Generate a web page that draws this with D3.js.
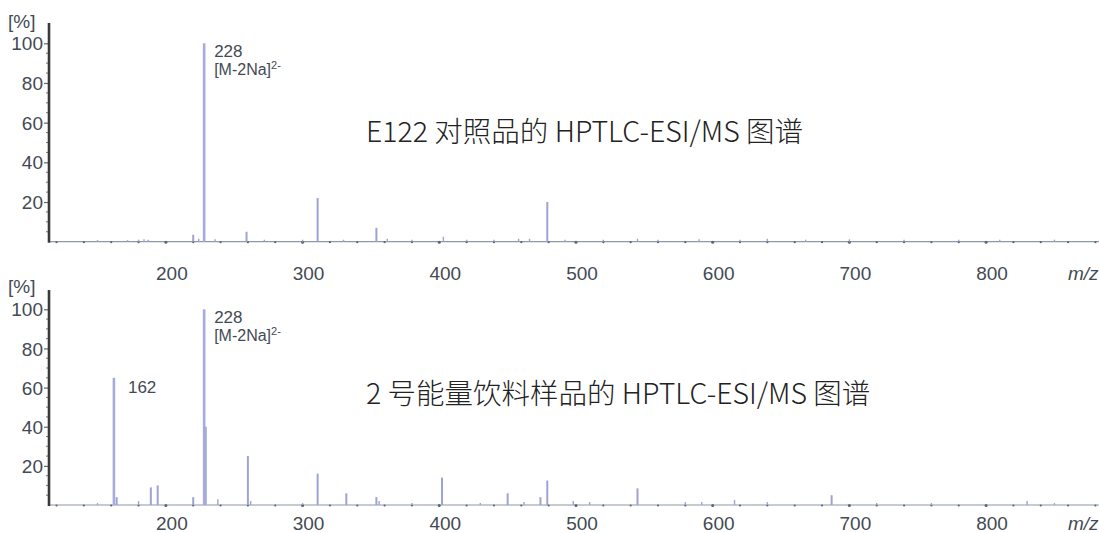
<!DOCTYPE html>
<html><head><meta charset="utf-8">
<script src="https://cdn.jsdelivr.net/npm/d3@7"></script>
<style>html,body{margin:0;padding:0;background:#fff;overflow:hidden}</style>
</head><body>
<svg id="c" width="1099" height="533"></svg>
<script>
// ---- data ----
const xTickValues = [200, 300, 400, 500, 600, 700, 800];
const yTickValues = [20, 40, 60, 80, 100];
const titles = ["E122 对照品的 HPTLC-ESI/MS 图谱", "2 号能量饮料样品的 HPTLC-ESI/MS 图谱"];
// panel 1: E122 reference substance
const refMz  = [150,172,180,184,187,220,224,228,236,259,272,300,311,330,354,362,380,403,420,440,458,466,479,492,520,545,560,590,620,640,668,700,740,780,810,850];
const refInt = [0.8,0.8,1,1.2,1,3.5,1.5,100,1.2,5,1,1,22,1,7,1.5,1,2.5,1,1,1.5,1.5,20,1,1,1.5,1,1.2,1,1.5,1,1.2,1,1,1,1];
// panel 2: energy drink sample no. 2
const smpMz  = [150,162,164,180,189,194,220,228,229,238,260,262,300,311,332,354,356,380,402,430,450,462,474,479,498,510,545,580,592,616,640,687,720,760,830,850];
const smpInt = [1,65,4,2,9,10,4,100,40,3,25,2,1,16,6,4,2,1,14,1,6,1.5,4,12.5,2,1.5,8.5,1.5,1.5,2.5,1.5,5,1,1,2,1];
const peakLabels = [
  [{mz:228, lines:["228","[M-2Na]"], sup:"2-"}],
  [{mz:228, lines:["228","[M-2Na]"], sup:"2-"}, {mz:162, lines:["162"], sup:null}]
];

const svg = d3.select("#c");
const W = 1099;
const x = d3.scaleLinear().domain([114.5, 882.6]).range([49, W]);

const panels = [
  {mz: refMz, it: refInt, top: 43.3, base: 241.7, axisTop: 23, lblBase: 280, title: titles[0], titleY: 142, pct: 28, labels: peakLabels[0]},
  {mz: smpMz, it: smpInt, top: 309.3, base: 505, axisTop: 290, lblBase: 530, title: titles[1], titleY: 404, pct: 293, labels: peakLabels[1]}
];

const txtCol = "#434a54";
const FF = "Liberation Sans, Arial, sans-serif";
panels.forEach(p => {
  const y = d3.scaleLinear().domain([0, 100]).range([p.base, p.top]);
  const g = svg.append("g");

  // baseline
  g.append("line").attr("x1", 49).attr("x2", W).attr("y1", p.base).attr("y2", p.base)
    .attr("stroke", "#8e98a8").attr("stroke-width", 1.2);
  // x minor dots
  const minor = d3.range(120, 881, 20);
  g.selectAll("circle.mn").data(minor).enter().append("circle")
    .attr("cx", d => x(d)).attr("cy", p.base + 0.5).attr("r", d => d % 100 === 0 ? 1.5 : 1.1)
    .attr("fill", "#5b6573");

  // peaks
  const data = p.mz.map((m, i) => ({m, v: p.it[i]}));
  g.selectAll("line.pk").data(data).enter().append("line")
    .attr("x1", d => x(d.m)).attr("x2", d => x(d.m))
    .attr("y1", p.base).attr("y2", d => y(d.v))
    .attr("stroke", d => d.v > 30 ? "#a6abdc" : "#9ea3d4")
    .attr("stroke-width", d => d.v > 30 ? 2.6 : (d.v > 3 ? 2 : 1.4));

  // y axis
  const yAx = d3.axisLeft(y).tickValues(yTickValues).tickSize(5).tickPadding(1).tickFormat(d3.format("d"));
  const ya = g.append("g").attr("transform", "translate(49,0)").call(yAx);
  ya.select(".domain").remove();
  ya.selectAll(".tick line").attr("stroke", "#666").attr("stroke-width", 1.2);
  ya.selectAll(".tick text").attr("font-family", FF)
    .attr("font-size", 19).attr("fill", txtCol).attr("dy", "0.35em");
  const yMinor = d3.range(5, 101, 5).filter(v => v % 20 !== 0);
  g.selectAll("line.ymn").data(yMinor).enter().append("line")
    .attr("x1", 46).attr("x2", 49).attr("y1", d => y(d)).attr("y2", d => y(d))
    .attr("stroke", "#777").attr("stroke-width", 1);
  g.append("line").attr("x1", 49).attr("x2", 49).attr("y1", p.axisTop).attr("y2", p.base + 1)
    .attr("stroke", "#3a3a3a").attr("stroke-width", 2.6);
  g.append("text").attr("x", 8).attr("y", p.pct).text("[%]")
    .attr("font-family", FF).attr("font-size", 19).attr("fill", txtCol);

  // x labels
  g.selectAll("text.xl").data(xTickValues).enter().append("text")
    .attr("x", d => x(d) + 6).attr("y", p.lblBase).attr("text-anchor", "middle")
    .attr("font-family", FF).attr("font-size", 19)
    .attr("fill", txtCol).text(d => d);
  g.append("text").attr("x", 1068).attr("y", p.lblBase).text("m/z")
    .attr("font-family", FF).attr("font-size", 19)
    .attr("font-style", "italic").attr("fill", txtCol);

  // peak labels
  p.labels.forEach(l => {
    const lx = x(l.mz) + (l.mz === 228 ? 10 : 14);
    const ly0 = l.mz === 228 ? y(100) + 14 : y(65) + 15;
    const t = g.append("text").attr("x", lx).attr("y", ly0)
      .attr("font-family", FF).attr("font-size", 17).attr("fill", txtCol);
    t.text(l.lines[0]);
    if (l.lines.length > 1) {
      const t2 = g.append("text").attr("x", lx).attr("y", ly0 + 18)
        .attr("font-family", FF).attr("font-size", 16).attr("fill", txtCol);
      t2.append("tspan").text(l.lines[1]);
      t2.append("tspan").attr("font-size", 11).attr("dy", -6).text(l.sup);
    }
  });

  // title
  g.append("text").attr("x", 366).attr("y", p.titleY).text(p.title)
    .attr("font-family", "Noto Sans CJK SC, Noto Sans, sans-serif").attr("font-size", 28.5)
    .attr("font-weight", 300).attr("fill", "#222");
});
</script>
</body></html>
